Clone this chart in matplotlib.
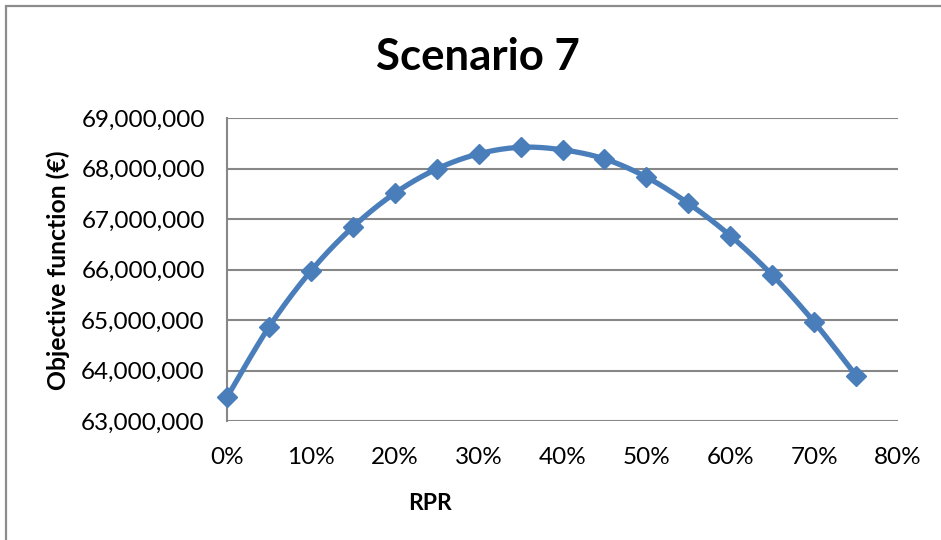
import numpy as np
import matplotlib
matplotlib.use("Agg")
import matplotlib.pyplot as plt
from matplotlib.ticker import FuncFormatter, MultipleLocator
from matplotlib.patches import Rectangle

plt.rcParams['font.family'] = ['Lato', 'DejaVu Sans']

# RPR share and objective value (EUR)
rpr = [0.00, 0.05, 0.10, 0.15, 0.20, 0.25, 0.30, 0.35,
       0.40, 0.45, 0.50, 0.55, 0.60, 0.65, 0.70, 0.75]
objective = [63_470_000, 64_860_000, 65_970_000, 66_840_000, 67_510_000,
             67_990_000, 68_290_000, 68_420_000, 68_370_000, 68_190_000,
             67_830_000, 67_310_000, 66_670_000, 65_890_000, 64_960_000,
             63_900_000]

title = "Scenario 7"
xlabel = "RPR"
ylabel = "Objective function (€)"

line_color = "#4A7EBB"
grid_color = "#878787"


def smooth_curve(x, y, n=30):
    """Catmull-Rom style Bezier smoothing through the points."""
    x = np.asarray(x, float)
    y = np.asarray(y, float)
    px = np.concatenate([[x[0]], x, [x[-1]]])
    py = np.concatenate([[y[0]], y, [y[-1]]])
    xs, ys = [], []
    t = np.linspace(0, 1, n)
    for i in range(1, len(px) - 2):
        p0 = np.array([px[i], py[i]])
        p3 = np.array([px[i + 1], py[i + 1]])
        p1 = p0 + (np.array([px[i + 1], py[i + 1]]) - np.array([px[i - 1], py[i - 1]])) / 6
        p2 = p3 - (np.array([px[i + 2], py[i + 2]]) - np.array([px[i], py[i]])) / 6
        b = ((1 - t) ** 3)[:, None] * p0 + (3 * (1 - t) ** 2 * t)[:, None] * p1 \
            + (3 * (1 - t) * t ** 2)[:, None] * p2 + (t ** 3)[:, None] * p3
        xs.append(b[:, 0])
        ys.append(b[:, 1])
    return np.concatenate(xs), np.concatenate(ys)


fig = plt.figure(figsize=(9.41, 5.40), dpi=100)
fig.patch.set_facecolor("white")

# chart area frame
fig.patches.append(Rectangle((6 / 941, -0.05), 1.2, 1 - 6 / 540 + 0.05,
                             transform=fig.transFigure, fill=False,
                             edgecolor="#8C8C8C", linewidth=1.6, zorder=0))

ax = fig.add_axes([227 / 941, 1 - 421 / 540, (898 - 227) / 941, (421 - 118) / 540])

sx, sy = smooth_curve(rpr, objective)
ax.plot(sx, sy, color=line_color, linewidth=3.8, solid_capstyle="round",
        zorder=3, clip_on=False)
ax.plot(rpr, objective, linestyle="none", marker="D", markersize=10.5,
        color=line_color, zorder=4, clip_on=False)

ax.set_xlim(0, 0.8)
ax.set_ylim(63_000_000, 69_000_000)
ax.xaxis.set_major_locator(MultipleLocator(0.1))
ax.yaxis.set_major_locator(MultipleLocator(1_000_000))
ax.xaxis.set_major_formatter(FuncFormatter(lambda v, p: f"{v * 100:.0f}%"))
ax.yaxis.set_major_formatter(FuncFormatter(lambda v, p: f"{v:,.0f}"))

ax.grid(axis="y", color=grid_color, linewidth=1.5)
ax.set_axisbelow(True)
for side in ["top", "right", "bottom"]:
    ax.spines[side].set_visible(False)
ax.spines["left"].set_color(grid_color)
ax.spines["left"].set_linewidth(1.5)

ax.tick_params(axis="y", length=0, labelsize=17.5, pad=16)
ax.tick_params(axis="x", length=0, labelsize=17.5, pad=19)

fig.text(478 / 941, 1 - 57 / 540, title, fontsize=31.5, fontweight="bold",
         ha="center", va="center")
fig.text(430 / 941, 1 - 503 / 540, xlabel, fontsize=16.5, fontweight="bold",
         ha="center", va="center")
fig.text(58 / 941, 1 - 270 / 540, ylabel, fontsize=17.8, fontweight="bold",
         ha="center", va="center", rotation=90)

fig.savefig("out.png", dpi=100)
